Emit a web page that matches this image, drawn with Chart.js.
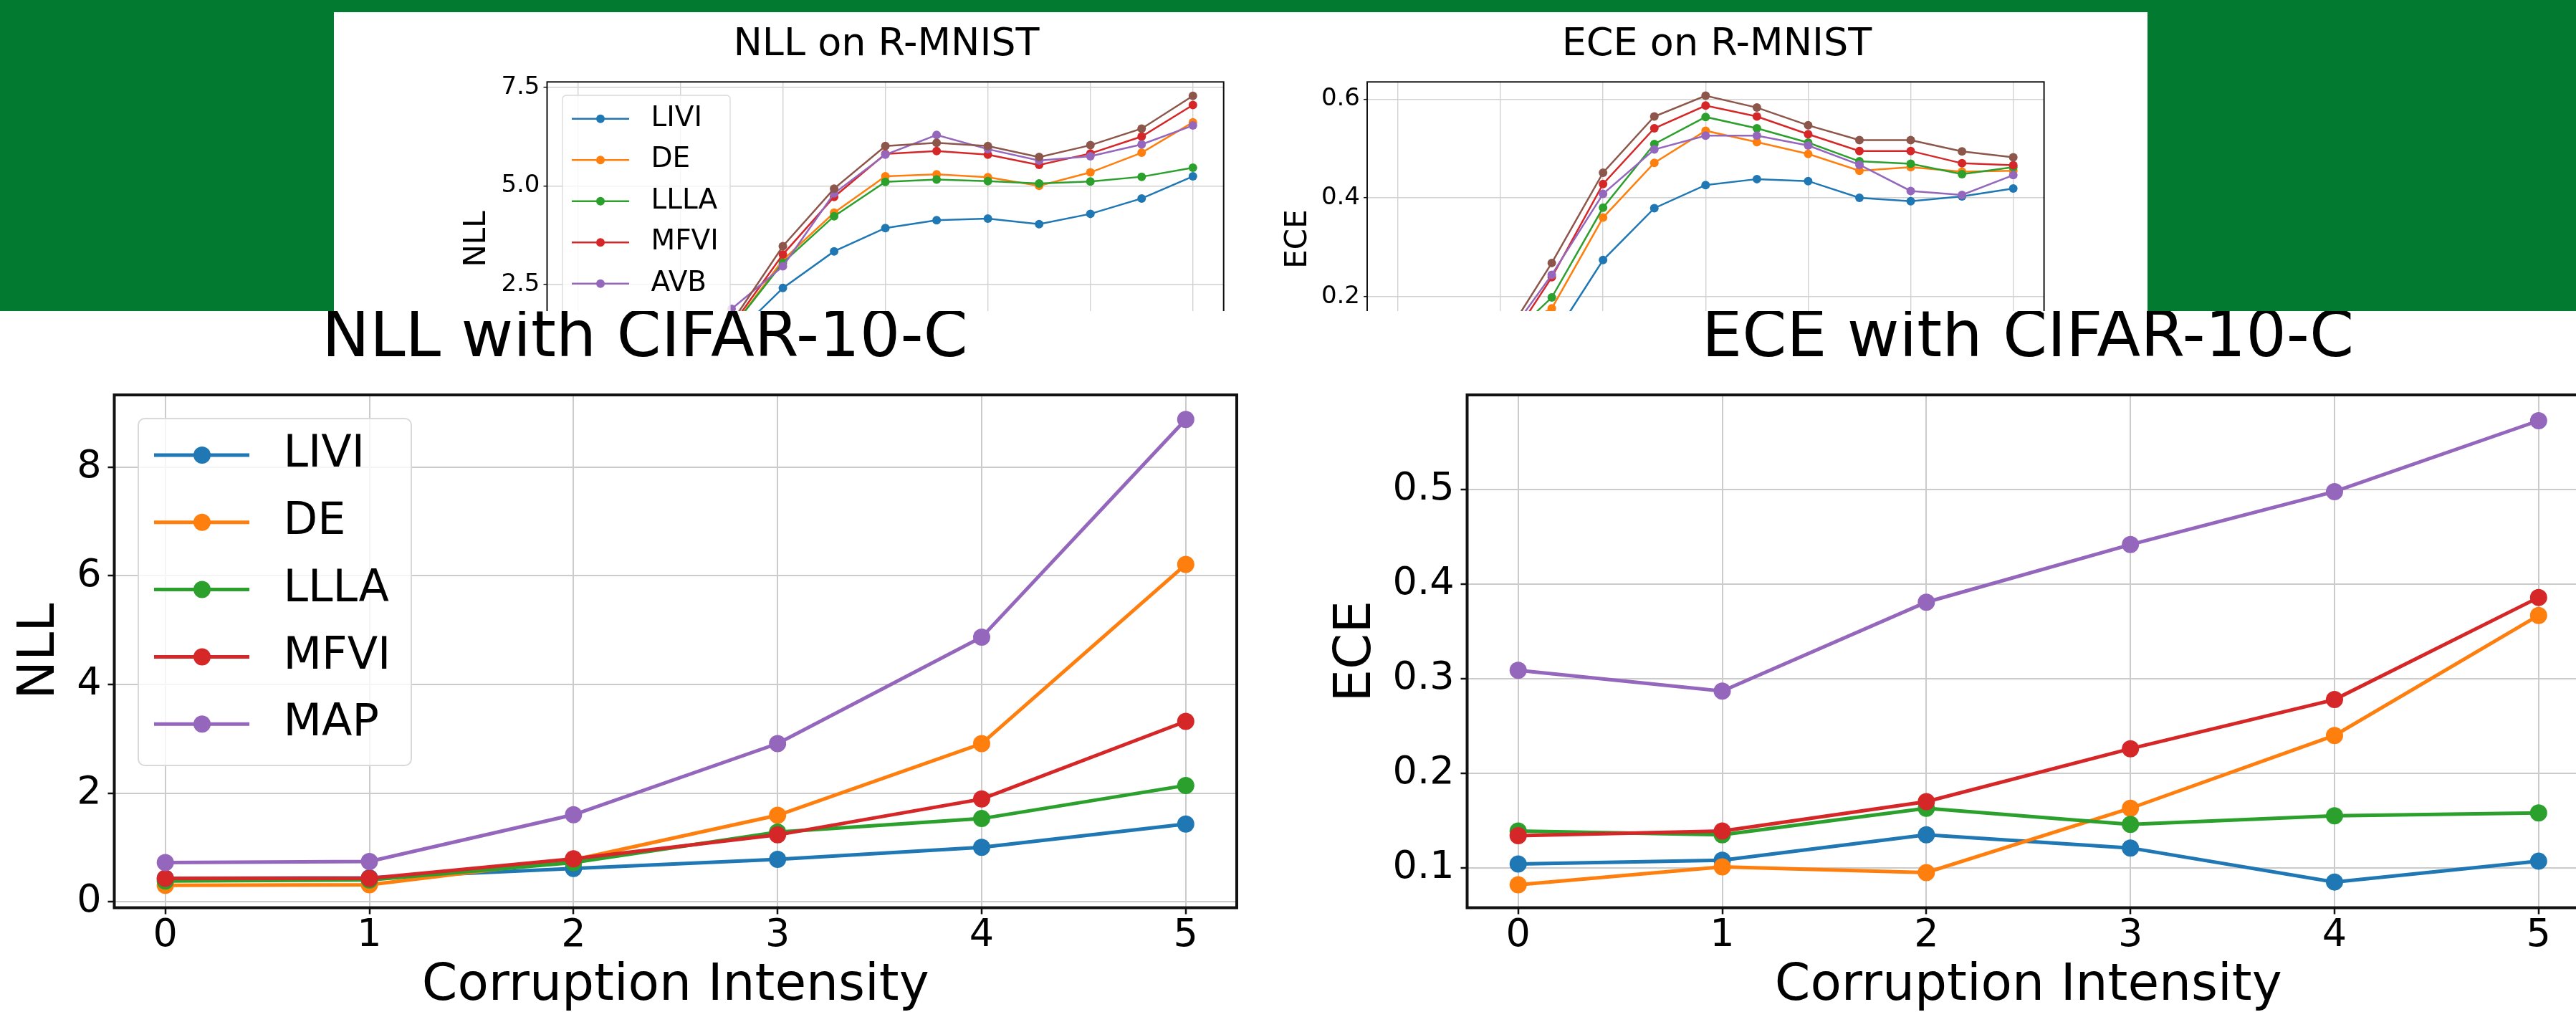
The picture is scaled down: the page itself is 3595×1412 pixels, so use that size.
<!DOCTYPE html>
<html>
<head>
<meta charset="utf-8">
<script src="https://cdn.jsdelivr.net/npm/chart.js@4.4.0/dist/chart.umd.min.js"></script>
<style>
  html, body { margin: 0; padding: 0; width: 3595px; height: 1412px; overflow: hidden; background: #027a2f; position: relative; }
  #topbox { position: absolute; left: 466px; top: 17px; width: 2531px; height: 417px; background: #fff; overflow: hidden; }
  #bottombox { position: absolute; left: 0; top: 434px; width: 3595px; height: 978px; background: #fff; overflow: hidden; }
  canvas { position: absolute; }
</style>
</head>
<body>
<div id="topbox"><canvas id="c1"></canvas><canvas id="c2"></canvas></div>
<div id="bottombox"><canvas id="c3"></canvas><canvas id="c4"></canvas></div>
<script>
// ---------------- DATA ----------------
const methodsTop = ['LIVI', 'DE', 'LLLA', 'MFVI', 'AVB', 'MAP'];
const methodsBottom = ['LIVI', 'DE', 'LLLA', 'MFVI', 'MAP'];
const colorsTop = ['#1f77b4', '#ff7f0e', '#2ca02c', '#d62728', '#9467bd', '#8c564b'];
const colorsBottom = ['#1f77b4', '#ff7f0e', '#2ca02c', '#d62728', '#9467bd'];

const rotationAngles = [0, 15, 30, 45, 60, 75, 90, 105, 120, 135, 150, 165, 180];
const rotationTicks = [0, 30, 60, 90, 120, 150, 180];
const corruptionLevels = [0, 1, 2, 3, 4, 5];

// NLL on R-MNIST
const nllRmnistLIVI = [0.03, 0.12, 0.55, 1.14, 2.41, 3.34, 3.93, 4.13, 4.17, 4.03, 4.29, 4.68, 5.24];
const nllRmnistDE   = [0.04, 0.15, 0.70, 1.38, 3.12, 4.32, 5.24, 5.29, 5.22, 5.00, 5.34, 5.84, 6.61];
const nllRmnistLLLA = [0.04, 0.15, 0.68, 1.39, 3.05, 4.23, 5.10, 5.16, 5.12, 5.06, 5.11, 5.23, 5.46];
const nllRmnistMFVI = [0.05, 0.17, 0.75, 1.45, 3.26, 4.72, 5.81, 5.88, 5.79, 5.53, 5.82, 6.25, 7.05];
const nllRmnistAVB  = [0.05, 0.18, 0.80, 1.88, 2.96, 4.81, 5.79, 6.29, 5.93, 5.64, 5.75, 6.05, 6.53];
const nllRmnistMAP  = [0.06, 0.20, 0.80, 1.54, 3.47, 4.93, 6.01, 6.09, 6.01, 5.73, 6.03, 6.45, 7.28];
const nllRmnistTicks = [2.5, 5.0, 7.5];

// ECE on R-MNIST
const eceRmnistLIVI = [0.027, 0.040, 0.070, 0.112, 0.274, 0.379, 0.426, 0.438, 0.434, 0.400, 0.393, 0.403, 0.419];
const eceRmnistDE   = [0.030, 0.045, 0.120, 0.176, 0.360, 0.471, 0.536, 0.513, 0.489, 0.455, 0.462, 0.453, 0.455];
const eceRmnistLLLA = [0.030, 0.045, 0.100, 0.198, 0.380, 0.509, 0.564, 0.541, 0.512, 0.474, 0.469, 0.448, 0.462];
const eceRmnistMFVI = [0.030, 0.045, 0.080, 0.239, 0.428, 0.541, 0.587, 0.565, 0.529, 0.495, 0.495, 0.470, 0.466];
const eceRmnistAVB  = [0.030, 0.045, 0.100, 0.244, 0.408, 0.498, 0.526, 0.526, 0.506, 0.467, 0.414, 0.406, 0.446];
const eceRmnistMAP  = [0.030, 0.050, 0.103, 0.268, 0.451, 0.565, 0.607, 0.583, 0.547, 0.517, 0.517, 0.494, 0.482];
const eceRmnistTicks = [0.2, 0.4, 0.6];

// NLL with CIFAR-10-C
const nllCifarLIVI = [0.43, 0.44, 0.61, 0.78, 1.00, 1.43];
const nllCifarDE   = [0.30, 0.31, 0.77, 1.59, 2.91, 6.21];
const nllCifarLLLA = [0.38, 0.40, 0.72, 1.28, 1.53, 2.14];
const nllCifarMFVI = [0.43, 0.43, 0.79, 1.23, 1.89, 3.32];
const nllCifarMAP  = [0.72, 0.74, 1.60, 2.91, 4.87, 8.88];
const nllCifarTicks = [0, 2, 4, 6, 8];

// ECE with CIFAR-10-C
const eceCifarLIVI = [0.104, 0.108, 0.135, 0.121, 0.085, 0.107];
const eceCifarDE   = [0.082, 0.101, 0.095, 0.163, 0.240, 0.367];
const eceCifarLLLA = [0.139, 0.135, 0.163, 0.146, 0.155, 0.158];
const eceCifarMFVI = [0.134, 0.139, 0.170, 0.226, 0.278, 0.386];
const eceCifarMAP  = [0.309, 0.287, 0.381, 0.442, 0.498, 0.573];
const eceCifarTicks = [0.1, 0.2, 0.3, 0.4, 0.5];

// ---------------- RENDERING ----------------
const FONT = "'DejaVu Sans', 'Liberation Sans', sans-serif";
Chart.defaults.color = '#000';
Chart.defaults.font.family = FONT;

function roundRectPath(ctx, x, y, w, h, r) {
  ctx.beginPath();
  ctx.moveTo(x + r, y);
  ctx.lineTo(x + w - r, y);
  ctx.arcTo(x + w, y, x + w, y + r, r);
  ctx.lineTo(x + w, y + h - r);
  ctx.arcTo(x + w, y + h, x + w - r, y + h, r);
  ctx.lineTo(x + r, y + h);
  ctx.arcTo(x, y + h, x, y + h - r, r);
  ctx.lineTo(x, y + r);
  ctx.arcTo(x, y, x + r, y, r);
  ctx.closePath();
}

function makeFramePlugin(width) {
  return {
    id: 'frame',
    afterDatasetsDraw(chart) {
      const a = chart.chartArea, ctx = chart.ctx;
      ctx.save();
      ctx.strokeStyle = '#111';
      ctx.lineWidth = width;
      ctx.strokeRect(a.left, a.top, a.right - a.left, a.bottom - a.top);
      ctx.restore();
    }
  };
}

function makeLegendPlugin(cfg, ox, oy) {
  return {
    id: 'mplLegend',
    afterDraw(chart) {
      const ctx = chart.ctx;
      ctx.save();
      const bx = cfg.box[0] - ox, by = cfg.box[1] - oy;
      const bw = cfg.box[2] - cfg.box[0], bh = cfg.box[3] - cfg.box[1];
      roundRectPath(ctx, bx, by, bw, bh, cfg.radius);
      ctx.fillStyle = 'rgba(255,255,255,0.8)';
      ctx.fill();
      ctx.lineWidth = cfg.borderWidth;
      ctx.strokeStyle = '#d9d9d9';
      ctx.stroke();
      cfg.items.forEach((it, i) => {
        if (i >= cfg.maxItems) return;
        const ry = cfg.row0 + i * cfg.rowStep - oy;
        ctx.strokeStyle = it.color;
        ctx.lineWidth = cfg.lineWidth;
        ctx.beginPath();
        ctx.moveTo(cfg.line[0] - ox, ry);
        ctx.lineTo(cfg.line[1] - ox, ry);
        ctx.stroke();
        ctx.fillStyle = it.color;
        ctx.beginPath();
        ctx.arc(cfg.markerX - ox, ry, cfg.markerR, 0, Math.PI * 2);
        ctx.fill();
        ctx.fillStyle = '#000';
        ctx.font = cfg.fontSize + 'px ' + FONT;
        ctx.textBaseline = 'middle';
        ctx.textAlign = 'left';
        ctx.fillText(it.label, cfg.textX - ox, ry);
      });
      ctx.restore();
    }
  };
}

function buildChart(id, s) {
  const tLH = s.title.size * 1.2;
  const yLH = s.yTitle.size * 1.2;
  const CL = Math.floor(Math.min(2 * s.title.cx - s.area.R, s.yTitle.mid - yLH / 2 - 4));
  const CW = Math.round(2 * (s.title.cx - CL));
  const CT = s.CT;
  const CH = Math.round(s.CB - s.CT);
  const yW = s.area.L - CL;
  const rW = CL + CW - s.area.R;
  const xH = CT + CH - s.area.B;
  const tpTop = s.title.mid - CT - tLH / 2;
  const tpBot = s.area.T - CT - tpTop - tLH;
  const yTitlePad = s.yTitle.mid - CL - yLH / 2;

  const cv = document.getElementById(id);
  cv.width = CW; cv.height = CH;
  cv.style.width = CW + 'px'; cv.style.height = CH + 'px';
  cv.style.left = (CL - s.box.x) + 'px';
  cv.style.top = (CT - s.box.y) + 'px';

  const xTickPad = s.xTicks.show ? (s.xTicks.mid - s.area.B - s.tickLen - s.tickSize * 0.6) : 0;
  const xTitleCfg = s.xTitle
    ? { display: true, text: s.xTitle.text, color: '#000',
        font: { family: FONT, size: s.xTitle.size, lineHeight: 1.2 },
        padding: { top: 0, bottom: (CT + CH) - s.xTitle.mid - s.xTitle.size * 0.6 } }
    : { display: false };

  const n = s.series.length;
  const datasets = s.series.map((sr, i) => ({
    label: sr.label,
    data: s.xs.map((x, k) => ({ x: x, y: sr.values[k] })),
    borderColor: sr.color,
    backgroundColor: sr.color,
    pointBackgroundColor: sr.color,
    pointBorderColor: sr.color,
    borderWidth: s.lineWidth,
    pointRadius: s.pointRadius,
    pointHoverRadius: s.pointRadius,
    pointBorderWidth: 0,
    tension: 0,
    fill: false,
    order: n - i,
    xAxisID: 'x',
    yAxisID: 'y'
  }));

  const gridCommon = {
    color: s.gridColor, lineWidth: s.gridWidth,
    tickColor: '#111', tickWidth: s.tickWidth, tickLength: s.tickLen, drawTicks: true
  };

  const scales = {
    x: {
      type: 'linear', position: 'bottom', min: s.xRange[0], max: s.xRange[1],
      afterBuildTicks: (sc) => { sc.ticks = s.xTicks.values.map(v => ({ value: v })); },
      afterFit: (sc) => { sc.height = xH; },
      grid: gridCommon,
      border: { display: false },
      ticks: { display: s.xTicks.show, color: '#000', padding: xTickPad, maxRotation: 0, autoSkip: false,
               font: { family: FONT, size: s.tickSize, lineHeight: 1.2 },
               callback: (v) => String(v) },
      title: xTitleCfg
    },
    y: {
      type: 'linear', position: 'left', min: s.yRange[0], max: s.yRange[1],
      afterBuildTicks: (sc) => { sc.ticks = s.yTicks.map(v => ({ value: v })); },
      afterFit: (sc) => { sc.width = yW; },
      grid: gridCommon,
      border: { display: false },
      ticks: { color: '#000', padding: s.yTickPad, autoSkip: false,
               font: { family: FONT, size: s.tickSize, lineHeight: 1.2 },
               callback: s.yFmt },
      title: { display: true, text: s.yTitle.text, color: '#000',
               font: { family: FONT, size: s.yTitle.size, lineHeight: 1.2 },
               padding: { top: yTitlePad, bottom: 0 } }
    }
  };
  if (rW > 0.5) {
    scales.yRight = {
      type: 'linear', position: 'right', display: true,
      grid: { display: false, drawTicks: false },
      border: { display: false },
      ticks: { display: false },
      title: { display: false },
      afterFit: (sc) => { sc.width = rW; }
    };
  }

  const plugins = [makeFramePlugin(s.frameWidth)];
  if (s.legend) plugins.push(makeLegendPlugin(s.legend, CL, CT));

  return new Chart(cv, {
    type: 'line',
    data: { datasets: datasets },
    options: {
      responsive: false,
      maintainAspectRatio: false,
      animation: false,
      devicePixelRatio: 1,
      events: [],
      layout: { padding: 0, autoPadding: false },
      plugins: {
        legend: { display: false },
        tooltip: { enabled: false },
        title: {
          display: true, text: s.title.text, color: '#000', align: 'center', fullSize: true,
          font: { family: FONT, size: s.title.size, weight: 'normal', lineHeight: 1.2 },
          padding: { top: tpTop, bottom: tpBot }
        }
      },
      scales: scales
    },
    plugins: plugins
  });
}

function seriesOf(names, colors, arrays) {
  return names.map((nm, i) => ({ label: nm, color: colors[i], values: arrays[i] }));
}

const fmt1 = (v) => Number(v).toFixed(1);
const fmt0 = (v) => String(v);

const topCommon = {
  box: { x: 466, y: 17 }, CT: 17, CB: 700,
  xs: rotationAngles, xRange: [-9, 189],
  xTicks: { values: rotationTicks, show: false },
  tickSize: 34, tickLen: 5, tickWidth: 1.5, yTickPad: 5,
  gridColor: '#d2d2d2', gridWidth: 1.4, frameWidth: 2,
  lineWidth: 2.5, pointRadius: 6
};

buildChart('c1', Object.assign({}, topCommon, {
  area: { L: 763.5, T: 114.3, R: 1707.7, B: 552.7 },
  title: { text: 'NLL on R-MNIST', size: 54, cx: 1237, mid: 63.2 },
  yTitle: { text: 'NLL', size: 42, mid: 666 },
  yRange: [-0.33, 7.634], yTicks: nllRmnistTicks, yFmt: fmt1,
  series: seriesOf(methodsTop, colorsTop,
    [nllRmnistLIVI, nllRmnistDE, nllRmnistLLLA, nllRmnistMFVI, nllRmnistAVB, nllRmnistMAP]),
  legend: {
    box: [785, 133, 1019, 486], radius: 5, borderWidth: 1.3,
    row0: 165.7, rowStep: 57.5, line: [798, 878], markerX: 838, markerR: 6,
    lineWidth: 2.5, textX: 908.5, fontSize: 39, maxItems: 5,
    items: methodsTop.map((m, i) => ({ label: m, color: colorsTop[i] }))
  }
}));

buildChart('c2', Object.assign({}, topCommon, {
  area: { L: 1908, T: 114.3, R: 2852.6, B: 552.7 },
  title: { text: 'ECE on R-MNIST', size: 54, cx: 2396, mid: 63.2 },
  yTitle: { text: 'ECE', size: 42, mid: 1811.7 },
  yRange: [-0.002, 0.635], yTicks: eceRmnistTicks, yFmt: fmt1,
  series: seriesOf(methodsTop, colorsTop,
    [eceRmnistLIVI, eceRmnistDE, eceRmnistLLLA, eceRmnistMFVI, eceRmnistAVB, eceRmnistMAP])
}));

const bottomCommon = {
  box: { x: 0, y: 434 }, CT: 400, CB: 1425,
  xs: corruptionLevels, xRange: [-0.25, 5.25],
  xTicks: { values: corruptionLevels, show: true, mid: 1306 },
  xTitle: { text: 'Corruption Intensity', size: 71, mid: 1377 },
  tickSize: 54, tickLen: 9, tickWidth: 2.5, yTickPad: 9,
  gridColor: '#cbcbcb', gridWidth: 2, frameWidth: 4,
  lineWidth: 5, pointRadius: 12
};

buildChart('c3', Object.assign({}, bottomCommon, {
  area: { L: 159.5, T: 551, R: 1726, B: 1266.5 },
  title: { text: 'NLL with CIFAR-10-C', size: 89, cx: 900, mid: 474.2 },
  yTitle: { text: 'NLL', size: 72, mid: 56.5 },
  yRange: [-0.112, 9.333], yTicks: nllCifarTicks, yFmt: fmt0,
  series: seriesOf(methodsBottom, colorsBottom,
    [nllCifarLIVI, nllCifarDE, nllCifarLLLA, nllCifarMFVI, nllCifarMAP]),
  legend: {
    box: [193, 584, 574, 1068], radius: 9, borderWidth: 2,
    row0: 635, rowStep: 93.8, line: [215, 348], markerX: 282, markerR: 12,
    lineWidth: 5, textX: 395.5, fontSize: 62, maxItems: 5,
    items: methodsBottom.map((m, i) => ({ label: m, color: colorsBottom[i] }))
  }
}));

buildChart('c4', Object.assign({}, bottomCommon, {
  area: { L: 2047.5, T: 551, R: 3614, B: 1266.5 },
  title: { text: 'ECE with CIFAR-10-C', size: 89, cx: 2830, mid: 474.2 },
  yTitle: { text: 'ECE', size: 72, mid: 1893 },
  yRange: [0.0578, 0.6003], yTicks: eceCifarTicks, yFmt: fmt1,
  series: seriesOf(methodsBottom, colorsBottom,
    [eceCifarLIVI, eceCifarDE, eceCifarLLLA, eceCifarMFVI, eceCifarMAP])
}));
</script>
</body>
</html>
